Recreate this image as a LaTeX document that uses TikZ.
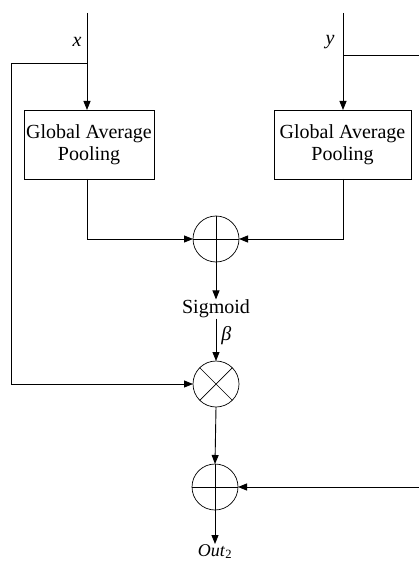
\documentclass[tikz,border=0pt]{standalone}
\usepackage{fontspec}
\setmainfont{Liberation Serif}
\usetikzlibrary{arrows.meta}
\begin{document}
\begin{tikzpicture}[x=1pt,y=-1pt, line width=0.9pt,
  arr/.style={-{Triangle[length=9pt,width=7pt]}},
  gapbox/.style={draw, line width=0.7pt, minimum height=69pt, align=center,
    font=\fontsize{20}{23}\selectfont, inner sep=0pt, outer sep=0pt},
  op/.style={circle, draw, line width=0.7pt, minimum size=46pt, inner sep=0pt, outer sep=0pt},
  lbl/.style={font=\fontsize{20}{23}\selectfont, inner sep=0pt}]
\useasboundingbox (0,0) rectangle (419,561);

% inputs
\coordinate (xin) at (87,13);
\coordinate (xbr) at (87,63);
\coordinate (xleft) at (11,63);
\coordinate (yin) at (343,13);
\coordinate (ybr) at (343,55);
\coordinate (yright) at (419,55);
\coordinate (resin) at (419,487);
\node[lbl] (xl) at (77,42) {\textit{x}};
\node[lbl] (yl) at (330,42) {\textit{y}};

% GAP boxes
\node[gapbox, minimum width=130pt] (gapL) at (89,144.5) {Global Average\\[-1pt]Pooling};
\node[gapbox, minimum width=137pt] (gapR) at (342.5,144.5) {Global Average\\[-1pt]Pooling};

% operators
\node[op] (sum1) at (216,239) {};
\draw[line width=0.7pt] (sum1.north) -- (sum1.south) (sum1.west) -- (sum1.east);
\node[lbl] (sig) at (216,309) {Sigmoid};
\node[op] (mul) at (216,384) {};
\draw[line width=0.7pt] (mul.north east) -- (mul.south west) (mul.north west) -- (mul.south east);
\node[op] (sum2) at (215,487) {};
\draw[line width=0.7pt] (sum2.north) -- (sum2.south) (sum2.west) -- (sum2.east);
\node[lbl, anchor=north, font=\fontsize{18}{20}\selectfont] (out) at (215,544) {\textit{Out}\textsubscript{2}};

% connectors
\draw[arr] (xin) -- (xin |- gapL.north);
\draw (xbr) -- (xleft) -- (xleft |- mul.west);
\draw[arr] (xleft |- mul.west) -- (mul.west);
\draw[arr] (yin) -- (yin |- gapR.north);
\draw (ybr) -- (yright);
\draw[arr] (xin |- gapL.south) -- (xin |- sum1.west) -- (sum1.west);
\draw[arr] (yin |- gapR.south) -- (yin |- sum1.east) -- (sum1.east);
\draw[arr] (sum1.south) -- (sig.north);
\draw[arr] (sig.south) -- node[lbl, right=5pt, pos=0.4] (beta) {\textit{β}} (mul.north);
\draw[arr] (mul.south) -- (sum2.north);
\draw[arr] (resin) -- (sum2.east);
\draw[arr] (sum2.south) -- (out.north);
\end{tikzpicture}
\end{document}
